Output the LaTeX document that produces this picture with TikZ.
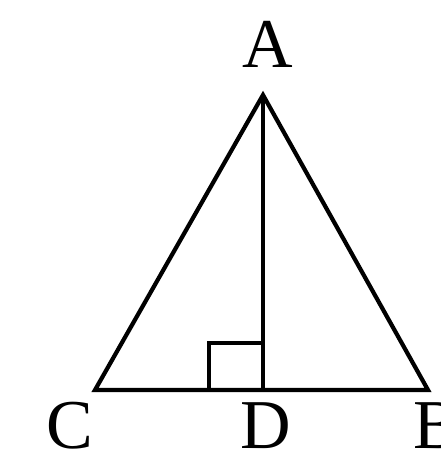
\documentclass[tikz,border=0pt]{standalone}
\usepackage{fontspec}
\setmainfont{Liberation Serif}
\begin{document}
\begin{tikzpicture}[x=1pt,y=1pt,
  edge/.style={line width=4.2pt,line join=miter},
  lbl/.style={anchor=base,inner sep=0pt,text depth=0pt,font=\fontsize{70}{70}\selectfont}]
\useasboundingbox (0,0) rectangle (441,453);
\fill[white] (0,0) rectangle (441,453);
\coordinate (A) at (263,358);
\coordinate (C) at (95,63);
\coordinate (D) at (263,63);
\coordinate (B) at (428,63);
\coordinate (S1) at (209,63);
\coordinate (S2) at (209,110);
\coordinate (S3) at (263,110);
\draw[edge] (C) -- (A) -- (B) -- cycle;
\draw[edge] (A) -- (D);
\draw[edge,line width=3.6pt] (S1) -- (S2) -- (S3);
\node[lbl] (lA) at (268,385) {A};
\node[lbl] (lC) at (70,5) {C};
\node[lbl] (lD) at (266,5) {D};
\node[lbl] (lB) at (437,5) {B};
\end{tikzpicture}
\end{document}
